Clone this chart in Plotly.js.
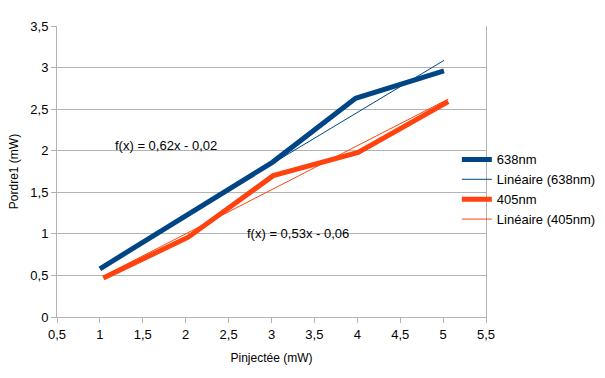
<!DOCTYPE html>
<html><head><meta charset="utf-8">
<script src="https://cdn.plot.ly/plotly-3.0.1.min.js"></script>
<style>html,body{margin:0;padding:0;background:#fff}#chart{width:605px;height:378px}</style>
</head><body><div id="chart"></div>
<script>
const x638 = [1.00, 2.01, 3.01, 3.98, 5.01];
const y638 = [0.58, 1.22, 1.86, 2.63, 2.96];
const x405 = [1.04, 2.03, 3.02, 4.01, 5.06];
const y405 = [0.47, 0.96, 1.70, 1.98, 2.59];
const fit638 = {slope: 0.62, intercept: -0.02, label: 'f(x) = 0,62x - 0,02'};
const fit405 = {slope: 0.53, intercept: -0.06, label: 'f(x) = 0,53x - 0,06'};
const seriesNames = ['638nm', 'Linéaire (638nm)', '405nm', 'Linéaire (405nm)'];
const xTitle = 'Pinjectée (mW)';
const yTitle = 'Pordre1 (mW)';

const BLUE = '#004586', ORANGE = '#ff420e';
function trend(xs, f) {
  const x0 = Math.min(...xs), x1 = Math.max(...xs);
  return {x: [x0, x1], y: [f.slope * x0 + f.intercept, f.slope * x1 + f.intercept]};
}
const t638 = trend(x638, fit638), t405 = trend(x405, fit405);
const FONT = 'Liberation Sans, Arial, sans-serif';
const data = [
  {x: x638, y: y638, mode: 'lines', name: seriesNames[0], line: {color: BLUE, width: 5}},
  {x: t638.x, y: t638.y, mode: 'lines', name: seriesNames[1], line: {color: BLUE, width: 1}},
  {x: x405, y: y405, mode: 'lines', name: seriesNames[2], line: {color: ORANGE, width: 5}},
  {x: t405.x, y: t405.y, mode: 'lines', name: seriesNames[3], line: {color: ORANGE, width: 1}}
];
const axisCommon = {
  showline: true, linecolor: '#b3b3b3', linewidth: 1,
  ticks: 'outside', ticklen: 5, tickcolor: '#b3b3b3',
  tickfont: {family: FONT, size: 13, color: '#000'},
  zeroline: false, dtick: 0.5
};
const layout = {
  width: 605, height: 378,
  margin: {l: 57, r: 119, t: 26, b: 61, autoexpand: false},
  separators: ', ',
  paper_bgcolor: '#fff', plot_bgcolor: '#fff',
  font: {family: FONT, size: 13, color: '#000'},
  showlegend: true,
  legend: {x: 0.932, xanchor: 'left', y: 0.593, yanchor: 'top', bgcolor: 'rgba(0,0,0,0)',
           font: {family: FONT, size: 13, color: '#000'}, tracegroupgap: 0},
  xaxis: Object.assign({}, axisCommon, {range: [0.5, 5.5], tick0: 0.5, showgrid: false,
    title: {text: xTitle, font: {family: FONT, size: 12, color: '#000'}, standoff: 13}}),
  yaxis: Object.assign({}, axisCommon, {range: [0, 3.5], tick0: 0, showgrid: true, gridcolor: '#b3b3b3',
    mirror: true,
    title: {text: yTitle, font: {family: FONT, size: 12, color: '#000'}, standoff: 9}}),
  annotations: [
    {x: 1.776, y: 2.06, xref: 'x', yref: 'y', text: fit638.label, showarrow: false,
     font: {family: FONT, size: 13, color: '#000'}},
    {x: 3.31, y: 1.0, xref: 'x', yref: 'y', text: fit405.label, showarrow: false,
     font: {family: FONT, size: 13, color: '#000'}}
  ]
};
Plotly.newPlot('chart', data, layout, {displayModeBar: false, staticPlot: true});
</script></body></html>
